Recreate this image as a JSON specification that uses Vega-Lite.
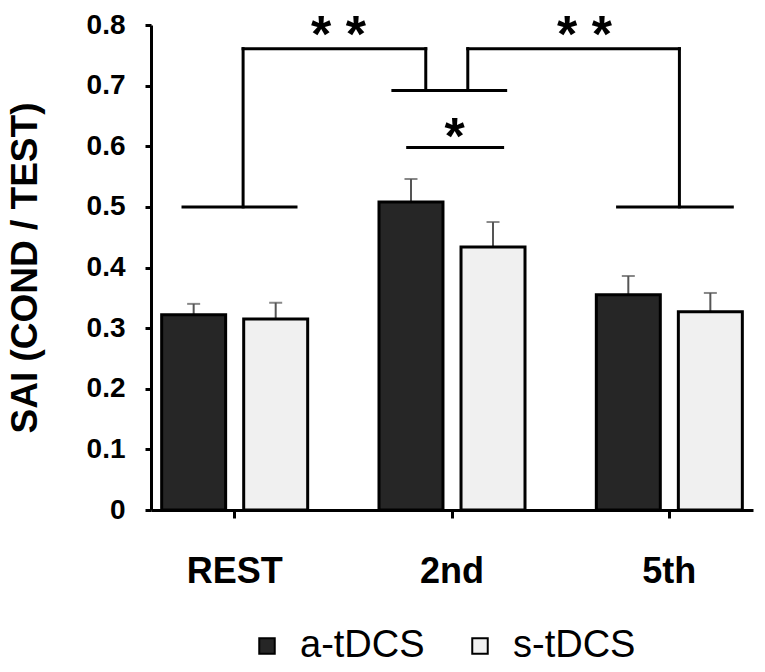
{
  "$schema": "https://vega.github.io/schema/vega-lite/v6.json",
  "width": 602,
  "height": 485,
  "autosize": {"type": "none"},
  "padding": {"left": 151, "top": 25, "right": 12, "bottom": 162},
  "background": "white",
  "config": {
    "view": {"stroke": null},
    "font": "Liberation Sans",
    "axisY": {
      "grid": false,
      "labelFont": "Liberation Sans",
      "labelFontSize": 28,
      "labelFontWeight": "bold",
      "labelColor": "black",
      "labelPadding": 20,
      "domainColor": "black",
      "domainWidth": 3,
      "tickColor": "black",
      "tickWidth": 3,
      "tickSize": 6,
      "titleFont": "Liberation Sans",
      "titleFontSize": 37,
      "titleFontWeight": "bold",
      "titleColor": "black",
      "titlePadding": 42
    }
  },
  "datasets": {
    "bars": [
      {"session": "REST", "cond": "a-tDCS", "sai": 0.322, "upper": 0.340},
      {"session": "REST", "cond": "s-tDCS", "sai": 0.315, "upper": 0.342},
      {"session": "2nd", "cond": "a-tDCS", "sai": 0.508, "upper": 0.546},
      {"session": "2nd", "cond": "s-tDCS", "sai": 0.434, "upper": 0.475},
      {"session": "5th", "cond": "a-tDCS", "sai": 0.355, "upper": 0.386},
      {"session": "5th", "cond": "s-tDCS", "sai": 0.327, "upper": 0.358}
    ],
    "brackets": [
      {"x1": 0.752, "x2": 1.271, "y1": 0.5, "y2": 0.5},
      {"x1": 1.028, "x2": 1.028, "y1": 0.5, "y2": 0.761},
      {"x1": 1.028, "x2": 1.867, "y1": 0.761, "y2": 0.761},
      {"x1": 1.867, "x2": 1.867, "y1": 0.761, "y2": 0.692},
      {"x1": 1.716, "x2": 2.234, "y1": 0.692, "y2": 0.692},
      {"x1": 2.060, "x2": 2.060, "y1": 0.692, "y2": 0.761},
      {"x1": 2.060, "x2": 3.032, "y1": 0.761, "y2": 0.761},
      {"x1": 3.032, "x2": 3.032, "y1": 0.761, "y2": 0.5},
      {"x1": 2.748, "x2": 3.275, "y1": 0.5, "y2": 0.5},
      {"x1": 1.784, "x2": 2.220, "y1": 0.598, "y2": 0.598}
    ],
    "stars": [
      {"x": 1.466, "y": 0.756, "label": "* *"},
      {"x": 2.596, "y": 0.756, "label": "* *"},
      {"x": 2.0, "y": 0.588, "label": "*"}
    ]
  },
  "layer": [
    {
      "data": {"name": "bars"},
      "encoding": {
        "x": {
          "field": "session",
          "type": "nominal",
          "sort": ["REST", "2nd", "5th"],
          "title": null,
          "scale": {"paddingInner": 0.23, "paddingOuter": 0},
          "axis": {
            "labelAngle": 0,
            "labelFont": "Liberation Sans",
            "labelFontSize": 36,
            "labelFontWeight": "bold",
            "labelColor": "black",
            "labelPadding": 36,
            "domainColor": "black",
            "domainWidth": 3,
            "tickColor": "black",
            "tickWidth": 3,
            "tickSize": 8,
            "bandPosition": 0.5,
            "grid": false
          }
        },
        "xOffset": {
          "field": "cond",
          "type": "nominal",
          "scale": {"paddingInner": 0.22, "paddingOuter": 0.13}
        },
        "y": {
          "field": "sai",
          "type": "quantitative",
          "title": "SAI (COND / TEST)",
          "scale": {"domain": [0, 0.8], "nice": false},
          "axis": {"values": [0, 0.1, 0.2, 0.3, 0.4, 0.5, 0.6, 0.7, 0.8], "format": "~g"}
        }
      },
      "layer": [
        {
          "mark": {"type": "rule", "color": "#555555", "strokeWidth": 2},
          "encoding": {"y2": {"field": "upper"}}
        },
        {
          "mark": {"type": "tick", "color": "#555555", "thickness": 2, "size": 13},
          "encoding": {
            "y": {
              "field": "upper",
              "type": "quantitative",
              "title": "SAI (COND / TEST)",
              "scale": {"domain": [0, 0.8], "nice": false},
              "axis": {"values": [0, 0.1, 0.2, 0.3, 0.4, 0.5, 0.6, 0.7, 0.8], "format": "~g"}
            }
          }
        },
        {
          "mark": {"type": "bar", "stroke": "black", "strokeWidth": 3},
          "encoding": {
            "color": {
              "field": "cond",
              "type": "nominal",
              "scale": {"domain": ["a-tDCS", "s-tDCS"], "range": ["#262626", "#f0f0f0"]},
              "legend": {
                "title": null,
                "orient": "none",
                "legendX": 97,
                "legendY": 602,
                "direction": "horizontal",
                "symbolType": "square",
                "symbolSize": 240,
                "symbolStrokeColor": "black",
                "symbolStrokeWidth": 2,
                "symbolOpacity": 1,
                "labelFont": "Liberation Sans",
                "labelFontSize": 38,
                "labelColor": "black",
                "labelOffset": 14,
                "columnPadding": 36
              }
            }
          }
        }
      ]
    },
    {
      "layer": [
        {
          "data": {"name": "brackets"},
          "mark": {"type": "rule", "color": "black", "strokeWidth": 3, "strokeCap": "square"},
          "encoding": {
            "x": {"field": "x1", "type": "quantitative", "scale": {"domain": [0.605, 3.37], "nice": false}, "axis": null},
            "x2": {"field": "x2"},
            "y": {
              "field": "y1",
              "type": "quantitative",
              "title": "SAI (COND / TEST)",
              "scale": {"domain": [0, 0.8], "nice": false},
              "axis": {"values": [0, 0.1, 0.2, 0.3, 0.4, 0.5, 0.6, 0.7, 0.8], "format": "~g"}
            },
            "y2": {"field": "y2"}
          }
        },
        {
          "data": {"name": "stars"},
          "mark": {"type": "text", "font": "Liberation Sans", "fontSize": 52, "fontWeight": "bold", "baseline": "alphabetic", "align": "center", "color": "black"},
          "encoding": {
            "x": {"field": "x", "type": "quantitative", "scale": {"domain": [0.605, 3.37], "nice": false}, "axis": null},
            "y": {
              "field": "y",
              "type": "quantitative",
              "title": "SAI (COND / TEST)",
              "scale": {"domain": [0, 0.8], "nice": false},
              "axis": {"values": [0, 0.1, 0.2, 0.3, 0.4, 0.5, 0.6, 0.7, 0.8], "format": "~g"}
            },
            "text": {"field": "label"}
          }
        }
      ]
    }
  ],
  "resolve": {"scale": {"x": "independent"}}
}
